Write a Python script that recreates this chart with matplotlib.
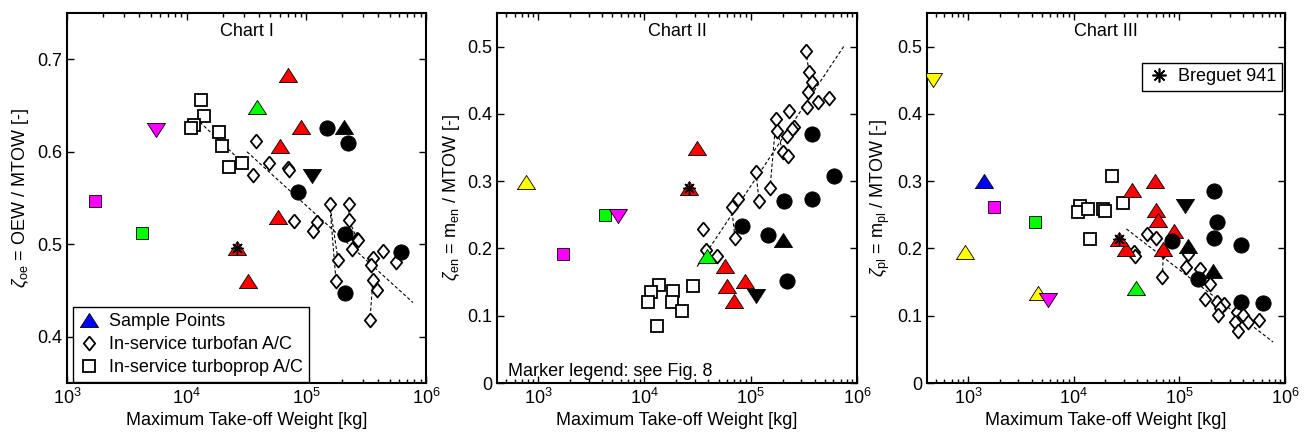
import matplotlib
matplotlib.use("Agg")
import matplotlib.pyplot as plt
from matplotlib.lines import Line2D

plt.rcParams['font.family'] = ['Liberation Sans', 'DejaVu Sans']
plt.rcParams['mathtext.fontset'] = 'custom'
plt.rcParams['mathtext.rm'] = 'Liberation Sans'
plt.rcParams['mathtext.it'] = 'Liberation Sans:italic'
plt.rcParams['font.size'] = 13

# ---------------- Chart I : OEW / MTOW ----------------
oe_turboprop_x = [13150, 13950, 11500, 10900, 18600, 19700, 22600, 29000]
oe_turboprop_y = [0.656, 0.639, 0.629, 0.626, 0.621, 0.606, 0.584, 0.588]
oe_turbofan_x = [37900, 48800, 35800, 70100, 71500, 157000, 227000, 227000, 78700, 123000,
                 113000, 265000, 270000, 240000, 436000, 360000, 561000, 347000, 184000,
                 177000, 360000, 389000, 340000]
oe_turbofan_y = [0.612, 0.588, 0.575, 0.582, 0.580, 0.543, 0.543, 0.526, 0.525, 0.524,
                 0.514, 0.506, 0.505, 0.495, 0.493, 0.485, 0.481, 0.478, 0.483,
                 0.460, 0.461, 0.451, 0.418]
oe_trend_prop = ([12900, 26300], [0.632, 0.594])
oe_trend_fan = ([31900, 778000], [0.600, 0.437])
oe_families = [([184000, 157000, 177000], [0.483, 0.543, 0.460]),
               ([227000, 227000, 265000], [0.543, 0.526, 0.506]),
               ([360000, 347000, 360000, 340000], [0.485, 0.478, 0.461, 0.418])]
oe_samples = {
    'magenta_sq': ([1714], [0.547]),
    'green_sq': ([4240], [0.512]),
    'magenta_down': ([5550], [0.624]),
    'green_up': ([38600], [0.648]),
    'red_up': ([70100, 90000, 60300, 58000, 32500], [0.683, 0.627, 0.606, 0.529, 0.460]),
    'breguet': ([26300], [0.496]),
    'black_circle': ([148000, 223000, 85000, 209000, 617000, 209000],
                     [0.626, 0.609, 0.556, 0.511, 0.492, 0.447]),
    'black_up': ([206000], [0.627]),
    'black_down': ([111000], [0.574]),
}

# ---------------- Chart II : m_en / MTOW ----------------
en_turboprop_x = [13700, 11500, 10800, 18600, 18200, 22600, 28700, 13100]
en_turboprop_y = [0.146, 0.136, 0.121, 0.137, 0.121, 0.107, 0.144, 0.085]
en_turbofan_x = [331000, 353000, 378000, 346000, 546000, 429000, 339000, 229000, 173000,
                 177000, 255000, 244000, 219000, 201000, 224000, 112000, 152000, 120000,
                 76000, 66000, 35600, 71100, 37900, 48200]
en_turbofan_y = [0.493, 0.463, 0.447, 0.432, 0.424, 0.417, 0.411, 0.404, 0.392,
                 0.374, 0.380, 0.377, 0.367, 0.344, 0.337, 0.313, 0.290, 0.270,
                 0.273, 0.262, 0.229, 0.216, 0.198, 0.189]
en_trend_fan = ([31300, 755000], [0.173, 0.501])
en_families = [([331000, 353000, 378000, 346000, 339000], [0.493, 0.463, 0.447, 0.432, 0.411]),
               ([173000, 152000], [0.392, 0.290]),
               ([177000, 201000], [0.374, 0.344]),
               ([112000, 120000], [0.313, 0.270]),
               ([66000, 71100], [0.262, 0.216])]
en_samples = {
    'yellow_up': ([770], [0.299]),
    'magenta_sq': ([1710], [0.192]),
    'green_sq': ([4270], [0.250]),
    'magenta_down': ([5650], [0.248]),
    'green_up': ([38600], [0.189]),
    'red_up': ([31400, 57300, 59800, 88300, 69700], [0.350, 0.174, 0.144, 0.152, 0.122]),
    'breguet': ([26300], [0.290]),
    'black_circle': ([82800, 146000, 219000, 206000, 378000, 608000, 378000],
                     [0.233, 0.220, 0.152, 0.270, 0.273, 0.307, 0.370]),
    'black_up': ([200000], [0.213]),
    'black_down': ([112000], [0.130]),
}

# ---------------- Chart III : m_pl / MTOW ----------------
pl_turboprop_x = [23300, 29600, 11400, 11100, 13600, 18800, 19600, 14200]
pl_turboprop_y = [0.307, 0.267, 0.263, 0.254, 0.259, 0.259, 0.256, 0.214]
pl_turbofan_x = [49900, 60700, 37600, 38500, 69200, 70600, 116000, 158000, 122000, 196000,
                 176000, 228000, 266000, 244000, 233000, 352000, 402000, 337000, 360000,
                 448000, 569000]
pl_turbofan_y = [0.222, 0.216, 0.195, 0.189, 0.158, 0.196, 0.173, 0.170, 0.192, 0.147,
                 0.125, 0.121, 0.118, 0.112, 0.101, 0.106, 0.101, 0.091, 0.078,
                 0.091, 0.093]
pl_trend_fan = ([31600, 771000], [0.229, 0.061])
pl_families = [([70600, 69200], [0.196, 0.158])]
pl_samples = {
    'yellow_down': ([468], [0.451]),
    'blue_up': ([1415], [0.300]),
    'magenta_sq': ([1760], [0.261]),
    'green_sq': ([4290], [0.239]),
    'yellow_up': ([937, 4570], [0.195, 0.134]),
    'magenta_down': ([5690], [0.124]),
    'green_up': ([39300], [0.141]),
    'red_up': ([35300, 59400, 60700, 63400, 89700, 31600, 70600],
               [0.287, 0.301, 0.257, 0.242, 0.226, 0.199, 0.199]),
    'breguet': ([26600], [0.214]),
    'black_circle': ([214000, 228000, 214000, 385000, 85900, 151000, 385000, 620000],
                     [0.285, 0.239, 0.216, 0.205, 0.211, 0.155, 0.121, 0.119]),
    'black_up': ([122000, 209000], [0.204, 0.167]),
    'black_down': ([114000], [0.263]),
}

titles = ['Chart I', 'Chart II', 'Chart III']
ylabels = [r'$\zeta_{\rm oe}$ = OEW / MTOW [-]',
           r'$\zeta_{\rm en}$ = m$_{\rm en}$ / MTOW [-]',
           r'$\zeta_{\rm pl}$ = m$_{\rm pl}$ / MTOW [-]']

# marker shapes (MATLAB-like: triangles wider than tall, diamonds taller than wide)
TRI_UP = [(-1, -0.78), (1, -0.78), (0, 0.78), (-1, -0.78)]
TRI_DN = [(-1, 0.78), (1, 0.78), (0, -0.78), (-1, 0.78)]
DIAM = [(0, 1), (0.82, 0), (0, -1), (-0.82, 0), (0, 1)]
ASTER = (8, 2, 0)

styles = {
    'red_up': (TRI_UP, 'red', 13),
    'green_up': (TRI_UP, '#00ff00', 13),
    'blue_up': (TRI_UP, 'blue', 13),
    'yellow_up': (TRI_UP, 'yellow', 13),
    'black_up': (TRI_UP, 'black', 13),
    'yellow_down': (TRI_DN, 'yellow', 13),
    'magenta_down': (TRI_DN, 'magenta', 13),
    'black_down': (TRI_DN, 'black', 13),
    'magenta_sq': ('s', 'magenta', 9),
    'green_sq': ('s', '#00ff00', 9),
    'black_circle': ('o', 'black', 11),
    'breguet': (TRI_UP, 'red', 13),
}


def draw_chart(ax, prop_x, prop_y, fan_x, fan_y, families, trends, samples):
    dash = dict(color='black', lw=0.8, ls=(0, (3, 2)), zorder=3)
    for fx, fy in families:
        ax.plot(fx, fy, **dash)
    for tx, ty in trends:
        ax.plot(tx, ty, **dash)
    ax.plot(fan_x, fan_y, ls='none', marker=DIAM, ms=10, mfc='white', mec='black',
            mew=1.3, zorder=4)
    ax.plot(prop_x, prop_y, ls='none', marker='s', ms=8, mfc='white', mec='black',
            mew=1.3, zorder=4)
    for key, (sx, sy) in samples.items():
        m, c, s = styles[key]
        ax.plot(sx, sy, ls='none', marker=m, ms=s, mfc=c, mec='black', mew=0.6, zorder=5)
        if key == 'breguet':
            ax.plot(sx, sy, ls='none', marker=ASTER, ms=9, mec='black', mew=1.0, zorder=6)


fig = plt.figure(figsize=(13.06, 4.37), dpi=100)
positions = [[67 / 1306, 54 / 437, 359 / 1306, 370 / 437],
             [497 / 1306, 54 / 437, 360 / 1306, 370 / 437],
             [927 / 1306, 54 / 437, 358 / 1306, 370 / 437]]
axes = [fig.add_axes(p) for p in positions]

draw_chart(axes[0], oe_turboprop_x, oe_turboprop_y, oe_turbofan_x, oe_turbofan_y,
           oe_families, [oe_trend_prop, oe_trend_fan], oe_samples)
draw_chart(axes[1], en_turboprop_x, en_turboprop_y, en_turbofan_x, en_turbofan_y,
           en_families, [en_trend_fan], en_samples)
draw_chart(axes[2], pl_turboprop_x, pl_turboprop_y, pl_turbofan_x, pl_turbofan_y,
           pl_families, [pl_trend_fan], pl_samples)

for i, ax in enumerate(axes):
    ax.set_xscale('log')
    ax.set_xticks([1e3, 1e4, 1e5, 1e6])
    ax.tick_params(which='both', direction='in', top=True, right=True, width=1.0)
    ax.tick_params(which='major', length=5)
    ax.tick_params(which='minor', length=3)
    for sp in ax.spines.values():
        sp.set_linewidth(1.5)
    ax.set_xlabel('Maximum Take-off Weight [kg]', labelpad=3)
    ax.set_ylabel(ylabels[i], labelpad=4)
    ax.text(0.5, 0.949, titles[i], transform=ax.transAxes, ha='center', va='center')

axes[0].set_xlim(1e3, 1e6)
axes[0].set_ylim(0.35, 0.75)
axes[0].set_yticks([0.4, 0.5, 0.6, 0.7])
for ax in axes[1:]:
    ax.set_xlim(410, 1e6)
    ax.set_ylim(0, 0.55)
    ax.set_yticks([0, 0.1, 0.2, 0.3, 0.4, 0.5])
    ax.set_yticklabels(['0', '0.1', '0.2', '0.3', '0.4', '0.5'])

# legend of chart I
handles = [Line2D([], [], ls='none', marker=TRI_UP, ms=13, mfc='blue', mec='black', mew=0.6),
           Line2D([], [], ls='none', marker=DIAM, ms=10, mfc='white', mec='black', mew=1.3),
           Line2D([], [], ls='none', marker='s', ms=8, mfc='white', mec='black', mew=1.3)]
leg = axes[0].legend(handles, ['Sample Points', 'In-service turbofan A/C', 'In-service turboprop A/C'],
                     loc='lower left', bbox_to_anchor=(0.017, 0.003), borderaxespad=0,
                     fancybox=False, edgecolor='black', framealpha=1, handlelength=1.2,
                     handletextpad=0.5, labelspacing=0.35, borderpad=0.3)
leg.get_frame().set_linewidth(1.0)

axes[1].text(0.031, 0.032, 'Marker legend: see Fig. 8', transform=axes[1].transAxes,
             ha='left', va='center')

h_bre = Line2D([], [], ls='none', marker=ASTER, ms=10, mec='black', mew=1.2)
leg3 = axes[2].legend([h_bre], ['Breguet 941'], loc='upper right', bbox_to_anchor=(0.992, 0.865),
                      borderaxespad=0, fancybox=False, edgecolor='black', framealpha=1,
                      handlelength=1.2, handletextpad=0.5, borderpad=0.3)
leg3.get_frame().set_linewidth(1.0)

fig.savefig('out.png', dpi=100)
